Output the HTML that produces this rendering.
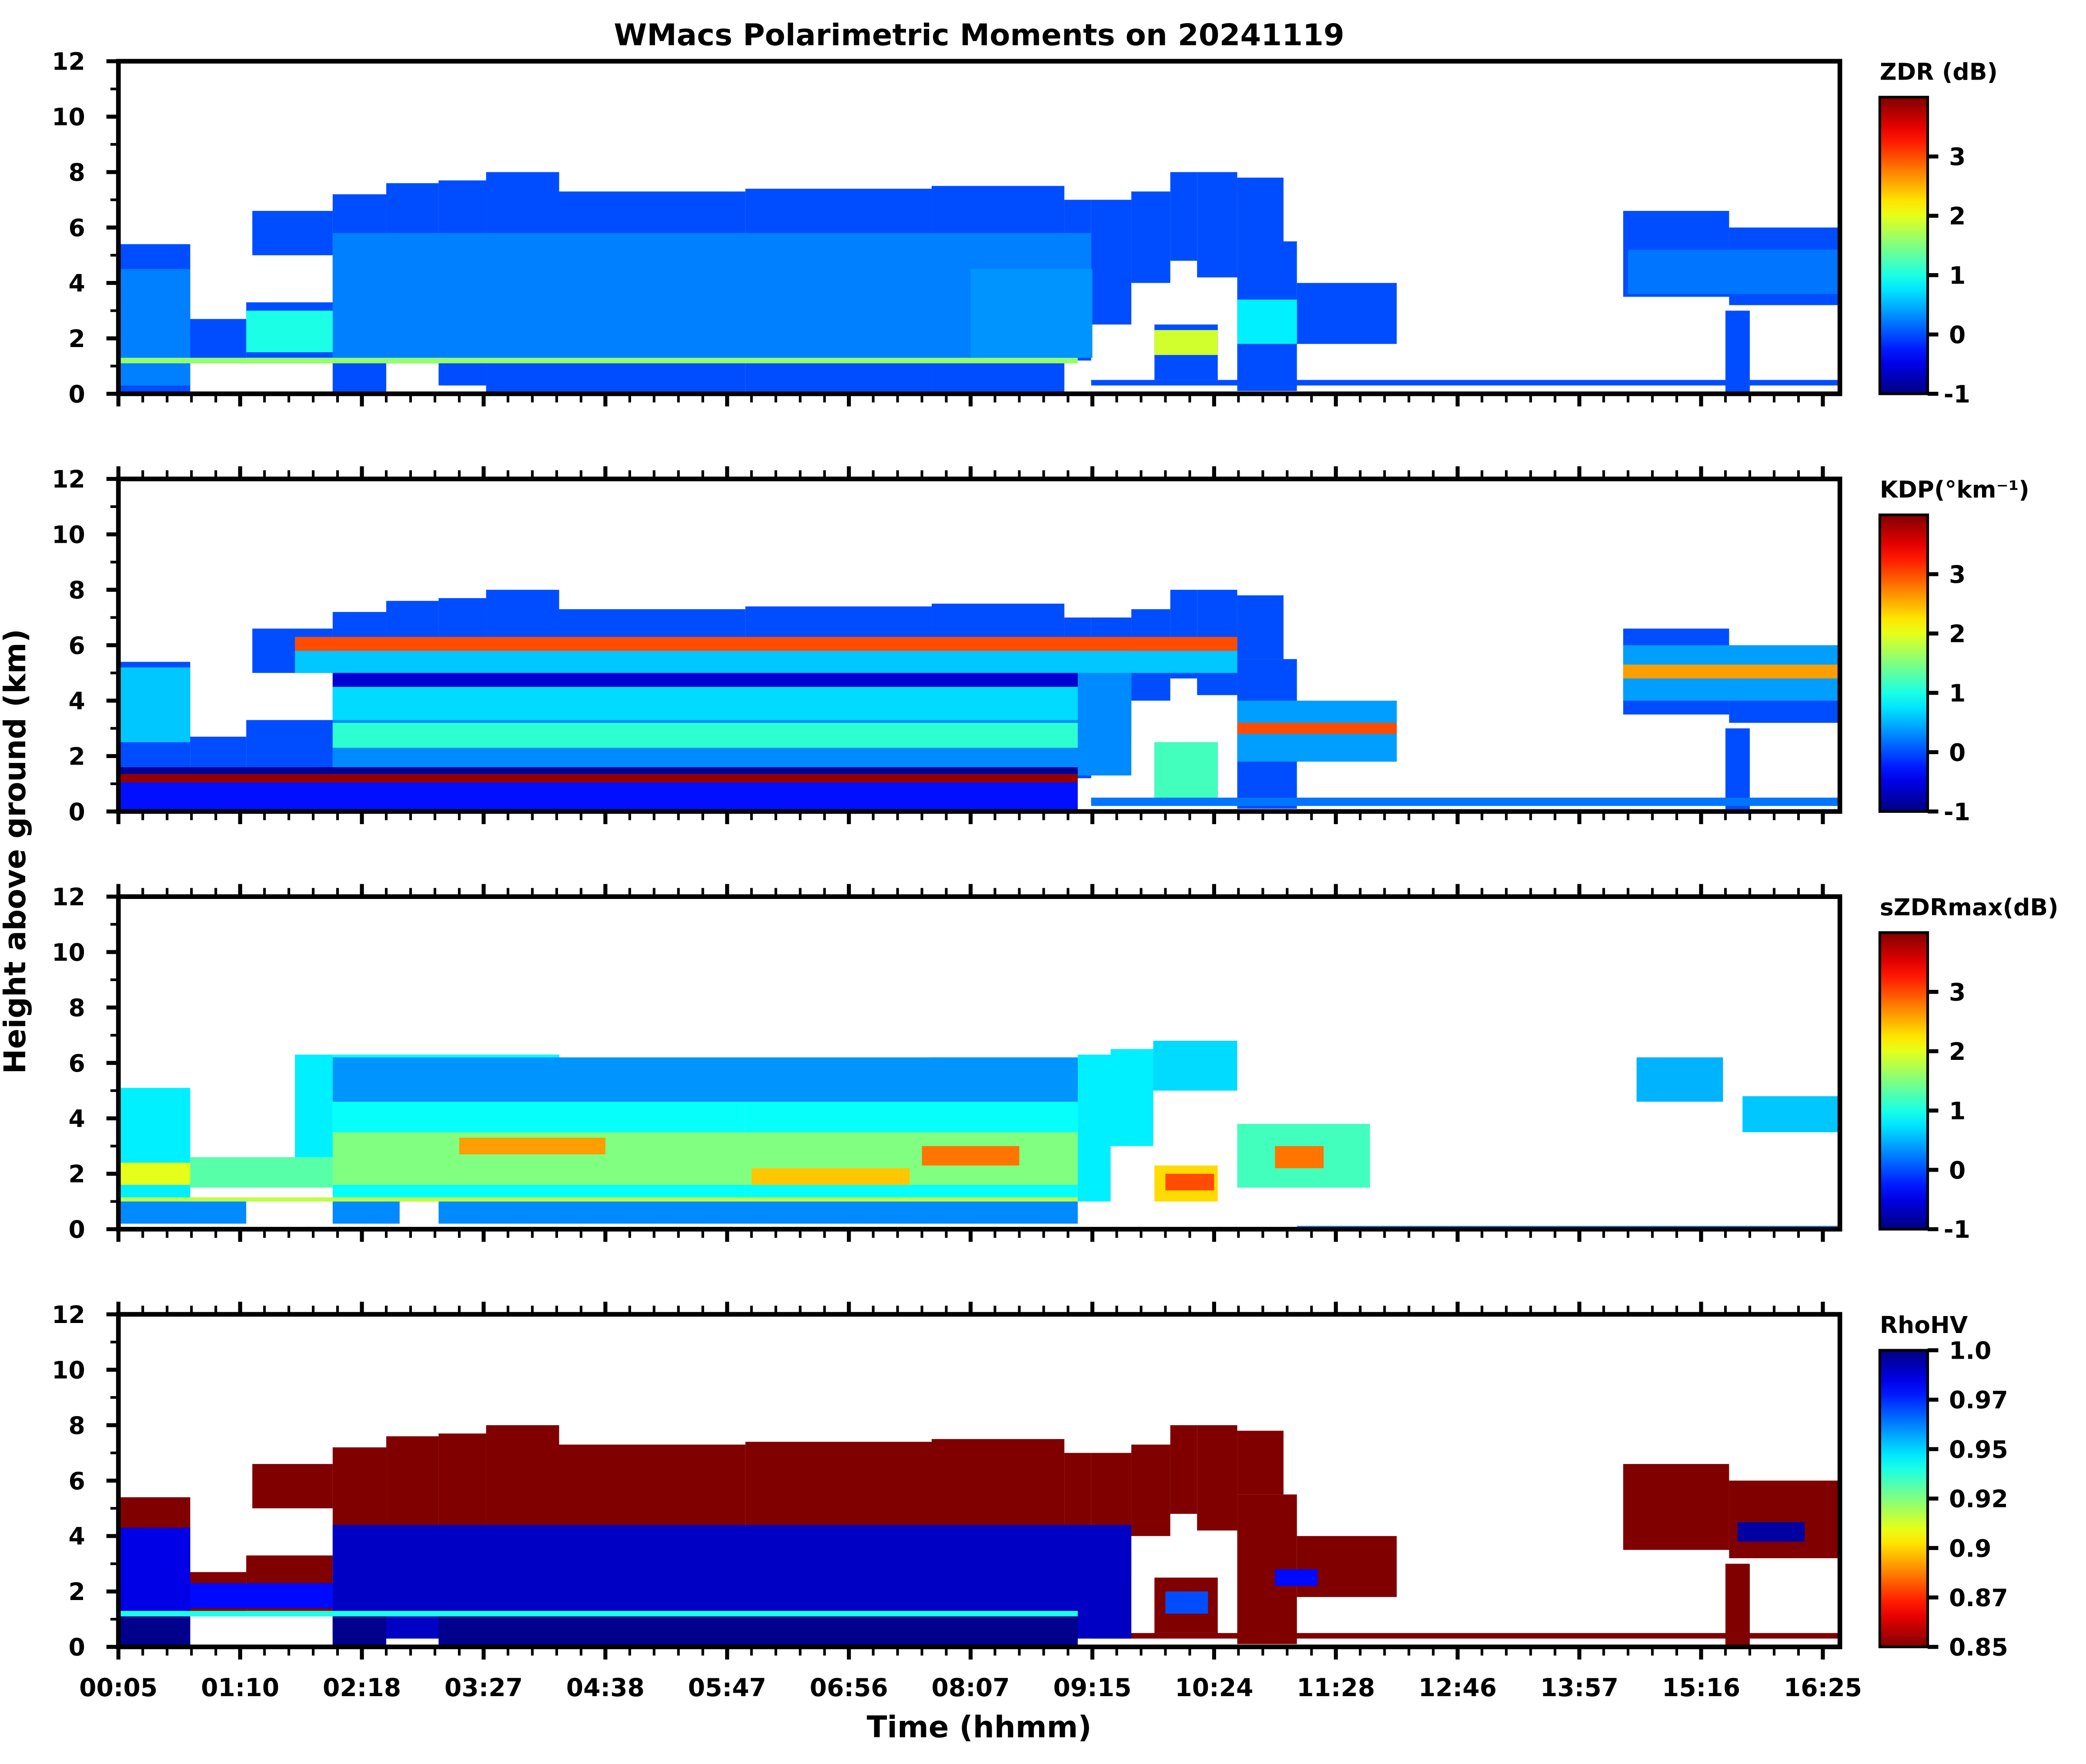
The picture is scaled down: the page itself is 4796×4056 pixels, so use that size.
<!DOCTYPE html>
<html><head><meta charset="utf-8">
<style>
html,body{margin:0;padding:0;background:#fff;}
svg{display:block;}
text{font-family:"DejaVu Sans","Liberation Sans",sans-serif;font-weight:bold;fill:#000;}
</style></head>
<body>
<svg id="fig" xmlns="http://www.w3.org/2000/svg" width="4796" height="4056" viewBox="0 0 1568 1326">
<rect x="0" y="0" width="1568" height="1326" fill="#fff"/>
<text x="736" y="34" font-size="22.5" text-anchor="middle">WMacs Polarimetric Moments on 20241119</text>
<text transform="translate(19,640) rotate(-90)" font-size="22.5" text-anchor="middle">Height above ground (km)</text>
<text x="736" y="1306" font-size="22.5" text-anchor="middle">Time (hhmm)</text>
</svg>
<script>
// ---- axis data ----
const xTickLabels = ["00:05","01:10","02:18","03:27","04:38","05:47","06:56","08:07","09:15","10:24","11:28","12:46","13:57","15:16","16:25"];
const xTickProfiles = [0,100,200,300,400,500,600,700,800,900,1000,1100,1200,1300,1400];
const yTicks = [0,2,4,6,8,10,12];
const yMinorTicks = [1,3,5,7,9,11];
const cbTicksLin = [-1,0,1,2,3];
const cbTicksRho = [0.85,0.875,0.9,0.925,0.95,0.975,1.0];
const cbLabelsRho = ["0.85","0.87","0.9","0.92","0.95","0.97","1.0"];

// envelope of echoes shared by ZDR, KDP, RhoHV: [startProfile, endProfile, baseKm, topKm]
const envStart = [0,59,105,110,176,220,263,302,362,515,668,777,799,832,864,886,851,919,919,968,1236,1323,1320,799];
const envEnd   = [59,105,176,176,220,263,302,362,515,668,777,799,832,864,886,919,903,968,957,1050,1323,1414,1340,1414];
const envBase  = [0,1.2,1.3,5.0,0,1.1,0.3,0,0,0,0,1.2,2.5,4.0,4.8,4.2,0.5,0.1,5.5,1.8,3.5,3.2,0,0.3];
const envTop   = [5.4,2.7,3.3,6.6,7.2,7.6,7.7,8.0,7.3,7.4,7.5,7.0,7.0,7.3,8.0,8.0,2.5,5.5,7.8,4.0,6.6,6.0,3.0,0.5];

// ZDR inner layers
const zdrStart = [176,0,105,851,919,0,1240,700];
const zdrEnd   = [799,59,176,903,968,788,1414,800];
const zdrBase  = [1.3,0.3,1.5,1.4,1.8,1.1,3.6,1.3];
const zdrTop   = [5.8,4.5,3.0,2.3,3.4,1.3,5.2,4.5];
const zdrVal   = [0.25,0.25,1.0,1.9,0.8,1.6,0.2,0.35];
const zdrEnvVal = 0.0;

// KDP inner layers
const kdpStart = [176,176,176,145,145,0,0,0,0,919,919,851,1236,1236,799,176];
const kdpEnd   = [832,788,788,919,919,59,788,788,788,1050,1050,903,1414,1414,1414,788];
const kdpBase  = [1.3,2.3,3.3,5.0,5.8,2.5,1.35,1.05,0,1.8,2.8,0.5,4.0,4.8,0.2,4.5];
const kdpTop   = [5.8,3.2,4.5,5.8,6.3,5.2,1.6,1.35,1.05,4.0,3.2,2.5,6.0,5.3,0.5,5.0];
const kdpVal   = [0.3,1.1,0.7,0.6,3.0,0.6,-0.9,3.9,-0.3,0.4,3.0,1.2,0.4,2.6,0.2,-0.6];
const kdpEnvVal = 0.0;

// sZDRmax layers (own envelope + inner)
const szStart = [0,59,145,176,362,515,668,788,815,850,851,919,1247,1334, 0,176,263,0,176,0,280,660,520,950,860,176,968];
const szEnd   = [59,176,176,362,515,668,788,815,850,919,903,1028,1318,1414, 105,231,788,788,788,59,400,740,650,990,900,788,1414];
const szBase  = [0.2,1.5,2.6,1.0,1.0,1.0,1.0,1.0,3.0,5.0,1.0,1.5,4.6,3.5, 0.2,0.2,0.2,1.0,1.6,1.6,2.7,2.3,1.6,2.2,1.4,4.6,0];
const szTop   = [5.1,2.6,6.3,6.3,5.8,6.0,6.2,6.3,6.5,6.8,2.3,3.8,6.2,4.8, 1.0,1.0,1.0,1.15,3.5,2.4,3.3,3.0,2.2,3.0,2.0,6.2,0.12];
const szVal   = [0.8,1.3,0.8,0.9,0.9,0.9,0.9,0.8,0.8,0.7,2.3,1.2,0.5,0.6, 0.3,0.3,0.3,1.8,1.5,2.0,2.6,2.8,2.4,2.8,3.0,0.35,0.3];

// RhoHV inner layers
const rhoStart = [176,0,59,0,0,176,263,860,950,1330];
const rhoEnd   = [832,59,176,788,59,220,788,895,985,1385];
const rhoBase  = [0.3,0.3,1.4,1.1,0,0,0,1.2,2.2,3.8];
const rhoTop   = [4.4,4.3,2.3,1.3,1.1,1.1,1.1,2.0,2.8,4.5];
const rhoVal   = [0.99,0.985,0.98,0.94,0.998,0.998,0.998,0.97,0.98,0.995];
const rhoEnvVal = 0.85;

// ---- layout ----
const SVGNS = "http://www.w3.org/2000/svg";
const fig = document.getElementById('fig');
const AX_L = 89, AX_R = 1383, PMAX = 1414;
const panelTops = [46,360,674,988];
const PH = 250;
function xOf(p){ return AX_L + p/PMAX*(AX_R-AX_L); }
function yOf(km, top){ return top + PH - km/12*PH; }
function jet(f){
  f = Math.max(0, Math.min(1, f));
  const c = v => Math.round(255*Math.max(0, Math.min(1, v)));
  return `rgb(${c(1.5-Math.abs(4*f-3))},${c(1.5-Math.abs(4*f-2))},${c(1.5-Math.abs(4*f-1))})`;
}
function mk(tag, attrs, parent){
  const e = document.createElementNS(SVGNS, tag);
  for (const k in attrs) e.setAttribute(k, attrs[k]);
  (parent||fig).appendChild(e);
  return e;
}
function drawLayers(g, top, s, e, b, t, valFn, name){
  for (let i=0;i<s.length;i++){
    const r = mk('rect', {x:xOf(s[i]), y:yOf(t[i],top), width:xOf(e[i])-xOf(s[i]), height:yOf(b[i],top)-yOf(t[i],top), fill:valFn(i)}, g);
    
    
  }
}
const linF = v => (v+1)/5;
const rhoF = v => (1.0-v)/0.15;

const panels = [
  {name:'zdr', title:'ZDR (dB)', rho:false},
  {name:'kdp', title:'KDP(°km⁻¹)', rho:false},
  {name:'szdrmax', title:'sZDRmax(dB)', rho:false},
  {name:'rhohv', title:'RhoHV', rho:true}
];

const defs = mk('defs', {});
const gLin = mk('linearGradient', {id:'jetUp', x1:0, y1:1, x2:0, y2:0}, defs);
const gRho = mk('linearGradient', {id:'jetDown', x1:0, y1:0, x2:0, y2:1}, defs);
for (let i=0;i<=20;i++){
  mk('stop', {offset:i/20, 'stop-color':jet(i/20)}, gLin);
  mk('stop', {offset:i/20, 'stop-color':jet(i/20)}, gRho);
}

panels.forEach((P, pi) => {
  const top = panelTops[pi];
  const g = mk('g', {});
  
  
  const clip = mk('clipPath', {id:'clip'+pi}, defs);
  mk('rect', {x:AX_L, y:top, width:AX_R-AX_L, height:PH}, clip);
  const dg = mk('g', {'clip-path':`url(#clip${pi})`}, g);
  
  
  if (P.name==='zdr'){
    drawLayers(dg, top, envStart, envEnd, envBase, envTop, i=>jet(linF(zdrEnvVal)), 'zdr-env');
    drawLayers(dg, top, zdrStart, zdrEnd, zdrBase, zdrTop, i=>jet(linF(zdrVal[i])), 'zdr');
  } else if (P.name==='kdp'){
    drawLayers(dg, top, envStart, envEnd, envBase, envTop, i=>jet(linF(kdpEnvVal)), 'kdp-env');
    drawLayers(dg, top, kdpStart, kdpEnd, kdpBase, kdpTop, i=>jet(linF(kdpVal[i])), 'kdp');
  } else if (P.name==='szdrmax'){
    drawLayers(dg, top, szStart, szEnd, szBase, szTop, i=>jet(linF(szVal[i])), 'szdr');
  } else {
    drawLayers(dg, top, envStart, envEnd, envBase, envTop, i=>jet(rhoF(rhoEnvVal)), 'rho-env');
    drawLayers(dg, top, rhoStart, rhoEnd, rhoBase, rhoTop, i=>jet(rhoF(rhoVal[i])), 'rho');
  }
  const fr = mk('rect', {x:AX_L, y:top, width:AX_R-AX_L, height:PH, fill:'none', stroke:'#000', 'stroke-width':3.5}, g);
  
  
  yTicks.forEach(v => {
    const y = yOf(v, top);
    const l = mk('line', {x1:AX_L-9, x2:AX_L, y1:y, y2:y, stroke:'#000', 'stroke-width':3}, g);
    
    
    const t = mk('text', {x:AX_L-25, y:y+6.5, 'font-size':18, 'text-anchor':'end'}, g);
    t.textContent = v;
    
    
  });
  yMinorTicks.forEach(v => {
    const y = yOf(v, top);
    const l = mk('line', {x1:AX_L-6, x2:AX_L, y1:y, y2:y, stroke:'#000', 'stroke-width':2}, g);
    
    
  });
  for (let k=0;k<xTickProfiles.length;k++){
    for (let m=0;m<5;m++){
      const p = xTickProfiles[k] + m*20;
      if (p > PMAX) continue;
      const x = xOf(p);
      const len = m===0 ? 8 : 5, w = m===0 ? 3 : 2;
      const lb = mk('line', {x1:x, x2:x, y1:top+PH+1.5, y2:top+PH+1.5+len, stroke:'#000', 'stroke-width':w}, g);
      
      
      if (pi>0){
        const lt = mk('line', {x1:x, x2:x, y1:top-1.5, y2:top-1.5-len, stroke:'#000', 'stroke-width':w}, g);
        
        
      }
    }
    if (pi===3){
      const t = mk('text', {x:xOf(xTickProfiles[k]), y:top+PH+37, 'font-size':18.5, 'text-anchor':'middle'}, g);
      t.textContent = xTickLabels[k];
      
      
    }
  }
  const cbX = 1413, cbW = 36, cbTop = top+27, cbBot = top+PH;
  const cb = mk('rect', {x:cbX, y:cbTop, width:cbW, height:cbBot-cbTop, fill:P.rho?'url(#jetDown)':'url(#jetUp)', stroke:'#000', 'stroke-width':2}, g);
  
  
  const ct = mk('text', {x:1413, y:top+14, 'font-size':17.5}, g);
  ct.textContent = P.title;
  
  
  const ticks = P.rho ? cbTicksRho : cbTicksLin;
  ticks.forEach((v, i) => {
    const f = P.rho ? (v-0.85)/0.15 : (v+1)/5;
    const y = cbBot - f*(cbBot-cbTop);
    const l = mk('line', {x1:cbX+cbW, x2:cbX+cbW+8, y1:y, y2:y, stroke:'#000', 'stroke-width':3}, g);
    
    
    const t = mk('text', {x:cbX+cbW+12+(P.rho||v>=0?4:0), y:y+6.5, 'font-size':18}, g);
    t.textContent = P.rho ? cbLabelsRho[i] : String(v);
    
    
  });
});
</script>
</body></html>
